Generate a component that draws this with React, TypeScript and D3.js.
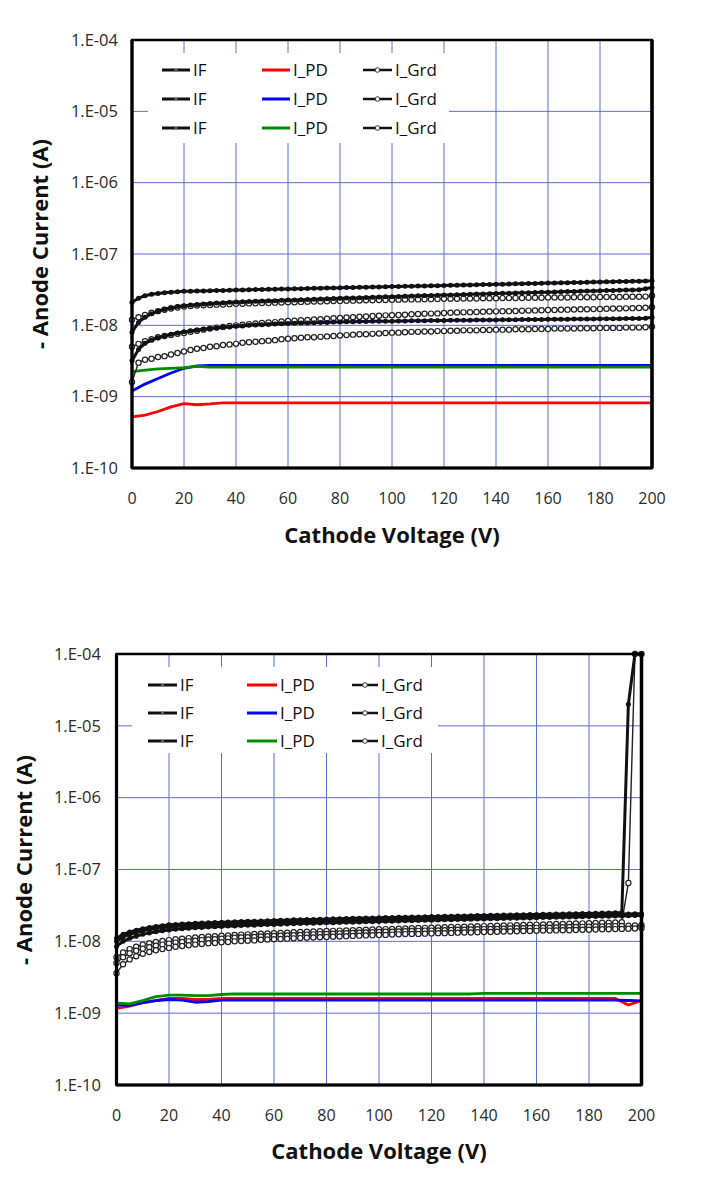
import React from "react";
import * as d3 from "d3";

// ---------- data (currents in nA) ----------
const V_MARK = [
  0, 2.5, 5, 7.5, 10, 12.5, 15, 17.5, 20, 22.5,
  25, 27.5, 30, 32.5, 35, 37.5, 40, 42.5, 45, 47.5,
  50, 52.5, 55, 57.5, 60, 62.5, 65, 67.5, 70, 72.5,
  75, 77.5, 80, 82.5, 85, 87.5, 90, 92.5, 95, 97.5,
  100, 102.5, 105, 107.5, 110, 112.5, 115, 117.5, 120, 122.5,
  125, 127.5, 130, 132.5, 135, 137.5, 140, 142.5, 145, 147.5,
  150, 152.5, 155, 157.5, 160, 162.5, 165, 167.5, 170, 172.5,
  175, 177.5, 180, 182.5, 185, 187.5, 190, 192.5, 195, 197.5,
  200,
];
const V_PD = [
  0, 5, 10, 15, 20, 25, 30, 35, 40, 45, 50, 55, 60, 65, 70, 75, 80, 85, 90, 95,
  100, 105, 110, 115, 120, 125, 130, 135, 140, 145, 150, 155, 160, 165, 170, 175,
  180, 185, 190, 195, 200,
];
const X_TICKS = [0, 20, 40, 60, 80, 100, 120, 140, 160, 180, 200];
const Y_TICKS = [1e-4, 1e-5, 1e-6, 1e-7, 1e-8, 1e-9, 1e-10];
const Y_TICK_LABELS = ["1.E-04", "1.E-05", "1.E-06", "1.E-07", "1.E-08", "1.E-09", "1.E-10"];
const X_TITLE = "Cathode Voltage (V)";
const Y_TITLE = "- Anode Current (A)";
const NAME_IF = "IF";
const NAME_PD = "I_PD";
const NAME_GRD = "I_Grd";
const PD_COLORS = ["#ff0000", "#0000ff", "#008a00"];

// top chart
const TOP_IF_A = [
  21, 24, 26, 27.2, 28, 28.6, 29.1, 29.5, 30, 30.1,
  30.3, 30.4, 30.6, 30.7, 30.9, 31.1, 31.2, 31.4, 31.5, 31.7,
  31.8, 32, 32.1, 32.3, 32.4, 32.6, 32.7, 32.9, 33, 33.2,
  33.3, 33.5, 33.6, 33.8, 33.9, 34.1, 34.2, 34.4, 34.5, 34.7,
  34.9, 35, 35.2, 35.4, 35.5, 35.7, 35.9, 36, 36.2, 36.4,
  36.6, 36.7, 36.9, 37.1, 37.3, 37.5, 37.6, 37.8, 38, 38.2,
  38.4, 38.5, 38.7, 38.9, 39.1, 39.3, 39.5, 39.6, 39.8, 40,
  40.2, 40.4, 40.5, 40.7, 40.9, 41.1, 41.3, 41.4, 41.6, 41.8,
  42,
];
const TOP_IF_B = [
  8, 11, 13, 14.5, 15.8, 16.8, 17.6, 18.3, 18.8, 19.2,
  19.6, 19.9, 20.2, 20.5, 20.7, 21, 21.2, 21.4, 21.5, 21.7,
  21.9, 22.1, 22.2, 22.4, 22.6, 22.7, 22.9, 23.1, 23.2, 23.4,
  23.6, 23.7, 23.9, 24.1, 24.2, 24.4, 24.6, 24.7, 24.9, 25.1,
  25.2, 25.4, 25.6, 25.7, 25.9, 26.1, 26.2, 26.4, 26.6, 26.7,
  26.9, 27.1, 27.2, 27.4, 27.6, 27.7, 27.9, 28.1, 28.2, 28.4,
  28.6, 28.7, 28.9, 29.1, 29.2, 29.4, 29.6, 29.7, 29.9, 30.1,
  30.2, 30.4, 30.6, 30.7, 30.9, 31.1, 31.2, 31.4, 31.6, 32.5,
  34,
];
const TOP_IF_C = [
  3.2, 4.6, 5.6, 6.2, 6.7, 7.1, 7.5, 7.8, 8.1, 8.4,
  8.6, 8.8, 9, 9.2, 9.4, 9.5, 9.7, 9.8, 10, 10.1,
  10.2, 10.3, 10.4, 10.5, 10.6, 10.7, 10.8, 10.8, 10.9, 11,
  11, 11.1, 11.1, 11.2, 11.2, 11.3, 11.3, 11.4, 11.4, 11.4,
  11.4, 11.5, 11.5, 11.6, 11.6, 11.6, 11.7, 11.7, 11.7, 11.8,
  11.8, 11.8, 11.8, 11.9, 11.9, 11.9, 11.9, 12, 12, 12,
  12.1, 12.1, 12.1, 12.1, 12.2, 12.2, 12.2, 12.2, 12.3, 12.3,
  12.3, 12.3, 12.4, 12.4, 12.4, 12.4, 12.5, 12.5, 12.5, 12.6,
  13,
];
const TOP_GRD_A = [
  12, 13, 14, 15, 15.8, 16.5, 17.2, 17.8, 18.3, 18.6,
  18.9, 19.1, 19.3, 19.5, 19.6, 19.8, 20, 20.1, 20.3, 20.4,
  20.5, 20.6, 20.8, 20.9, 21, 21.1, 21.3, 21.4, 21.5, 21.6,
  21.8, 21.9, 22, 22.1, 22.2, 22.3, 22.4, 22.5, 22.6, 22.7,
  22.8, 22.9, 23, 23.1, 23.1, 23.2, 23.3, 23.4, 23.5, 23.5,
  23.6, 23.7, 23.7, 23.8, 23.9, 23.9, 24, 24.1, 24.1, 24.2,
  24.2, 24.3, 24.4, 24.4, 24.5, 24.5, 24.6, 24.6, 24.7, 24.7,
  24.8, 24.8, 24.9, 24.9, 25, 25, 25.1, 25.1, 25.2, 25.3,
  26,
];
const TOP_GRD_B = [
  5, 5.5, 6, 6.4, 6.8, 7.1, 7.3, 7.6, 7.8, 8.1,
  8.4, 8.7, 9, 9.3, 9.5, 9.8, 10, 10.2, 10.4, 10.6,
  10.8, 11, 11.1, 11.3, 11.5, 11.6, 11.8, 11.9, 12.1, 12.2,
  12.4, 12.6, 12.7, 12.9, 13, 13.2, 13.3, 13.5, 13.6, 13.8,
  13.9, 14, 14.1, 14.3, 14.4, 14.5, 14.6, 14.7, 14.9, 15,
  15.1, 15.2, 15.3, 15.4, 15.5, 15.6, 15.7, 15.8, 15.8, 15.9,
  16, 16.1, 16.2, 16.3, 16.4, 16.4, 16.5, 16.6, 16.7, 16.8,
  16.8, 16.9, 17, 17.1, 17.2, 17.2, 17.3, 17.4, 17.5, 17.6,
  18,
];
const TOP_GRD_C = [
  1.6, 3, 3.3, 3.4, 3.6, 3.7, 3.9, 4.1, 4.3, 4.5,
  4.7, 4.8, 5, 5.1, 5.3, 5.4, 5.5, 5.7, 5.8, 5.9,
  6, 6.1, 6.2, 6.4, 6.5, 6.6, 6.7, 6.8, 6.8, 6.9,
  7, 7.1, 7.2, 7.3, 7.4, 7.5, 7.5, 7.6, 7.7, 7.8,
  7.9, 7.9, 8, 8.1, 8.1, 8.2, 8.2, 8.3, 8.3, 8.4,
  8.4, 8.5, 8.5, 8.5, 8.6, 8.6, 8.7, 8.7, 8.7, 8.8,
  8.8, 8.8, 8.9, 8.9, 8.9, 9, 9, 9, 9, 9.1,
  9.1, 9.1, 9.2, 9.2, 9.2, 9.2, 9.3, 9.3, 9.3, 9.4,
  9.6,
];
const TOP_PD_RED = [
  0.52, 0.55, 0.62, 0.72, 0.8, 0.77, 0.79, 0.82, 0.82, 0.82,
  0.82, 0.82, 0.82, 0.82, 0.82, 0.82, 0.82, 0.82, 0.82, 0.82,
  0.82, 0.82, 0.82, 0.82, 0.82, 0.82, 0.82, 0.82, 0.82, 0.82,
  0.82, 0.82, 0.82, 0.82, 0.82, 0.82, 0.82, 0.82, 0.82, 0.82,
  0.82,
];
const TOP_PD_BLUE = [
  1.2, 1.5, 1.8, 2.15, 2.5, 2.7, 2.75, 2.75, 2.75, 2.75,
  2.75, 2.75, 2.75, 2.75, 2.75, 2.75, 2.75, 2.75, 2.75, 2.75,
  2.75, 2.75, 2.75, 2.75, 2.75, 2.75, 2.75, 2.75, 2.75, 2.75,
  2.75, 2.75, 2.75, 2.75, 2.75, 2.75, 2.75, 2.75, 2.75, 2.75,
  2.75,
];
const TOP_PD_GREEN = [
  2.25, 2.35, 2.45, 2.5, 2.55, 2.65, 2.6, 2.6, 2.6, 2.6,
  2.6, 2.6, 2.6, 2.6, 2.6, 2.6, 2.6, 2.6, 2.6, 2.6,
  2.6, 2.6, 2.6, 2.6, 2.6, 2.6, 2.6, 2.6, 2.6, 2.6,
  2.6, 2.6, 2.6, 2.6, 2.6, 2.6, 2.6, 2.6, 2.6, 2.6,
  2.6,
];

// bottom chart
const BOT_IF_1 = [
  11, 12.5, 13.5, 14.3, 15, 15.6, 16.1, 16.5, 17, 17.2,
  17.4, 17.6, 17.8, 18, 18.1, 18.3, 18.4, 18.6, 18.7, 18.9,
  19, 19.1, 19.2, 19.4, 19.5, 19.6, 19.7, 19.9, 20, 20.1,
  20.2, 20.3, 20.4, 20.6, 20.7, 20.8, 20.9, 21, 21.1, 21.2,
  21.3, 21.4, 21.5, 21.6, 21.7, 21.8, 21.9, 22, 22.1, 22.2,
  22.3, 22.4, 22.5, 22.6, 22.7, 22.8, 22.9, 23, 23.1, 23.2,
  23.3, 23.4, 23.5, 23.6, 23.7, 23.8, 23.9, 24, 24.1, 24.2,
  24.3, 24.4, 24.5, 24.6, 24.7, 24.8, 24.9, 25, 20000, 100000,
  100000,
];
const BOT_IF_2 = [
  10, 11.5, 12.5, 13.3, 14, 14.6, 15.1, 15.5, 16, 16.2,
  16.4, 16.6, 16.8, 17, 17.1, 17.3, 17.4, 17.6, 17.7, 17.9,
  18, 18.1, 18.2, 18.4, 18.5, 18.6, 18.7, 18.9, 19, 19.1,
  19.2, 19.3, 19.4, 19.6, 19.7, 19.8, 19.9, 20, 20.1, 20.2,
  20.3, 20.4, 20.5, 20.6, 20.7, 20.8, 20.9, 21, 21.1, 21.2,
  21.3, 21.4, 21.5, 21.6, 21.7, 21.8, 21.9, 22, 22.1, 22.2,
  22.3, 22.4, 22.5, 22.6, 22.7, 22.8, 22.9, 23, 23.1, 23.2,
  23.3, 23.4, 23.5, 23.6, 23.7, 23.8, 23.9, 24, 24.1, 24.2,
  24.3,
];
const BOT_IF_3 = [
  8.5, 10, 11, 11.8, 12.5, 13.1, 13.6, 14, 14.4, 14.7,
  15, 15.2, 15.4, 15.6, 15.8, 16, 16.1, 16.3, 16.4, 16.6,
  16.7, 16.8, 17, 17.1, 17.2, 17.3, 17.5, 17.6, 17.7, 17.8,
  17.9, 18, 18.1, 18.2, 18.3, 18.4, 18.5, 18.6, 18.7, 18.8,
  18.9, 19, 19.1, 19.2, 19.3, 19.4, 19.5, 19.6, 19.7, 19.8,
  19.9, 20, 20.1, 20.2, 20.3, 20.4, 20.5, 20.6, 20.7, 20.8,
  20.9, 21, 21.1, 21.2, 21.3, 21.4, 21.5, 21.6, 21.7, 21.8,
  21.9, 22, 22.1, 22.2, 22.3, 22.4, 22.5, 22.6, 22.7, 22.8,
  22.9,
];
const BOT_GRD_1 = [
  6, 7, 7.8, 8.4, 9, 9.4, 9.8, 10.1, 10.4, 10.7,
  10.9, 11.1, 11.3, 11.5, 11.7, 11.8, 12, 12.1, 12.3, 12.4,
  12.5, 12.7, 12.8, 12.9, 13, 13.1, 13.2, 13.4, 13.5, 13.6,
  13.7, 13.8, 13.9, 14, 14.1, 14.2, 14.3, 14.4, 14.5, 14.6,
  14.7, 14.8, 14.9, 15, 15.1, 15.2, 15.3, 15.4, 15.5, 15.6,
  15.7, 15.8, 15.9, 16, 16.1, 16.2, 16.3, 16.4, 16.5, 16.6,
  16.7, 16.8, 16.9, 17, 17.1, 17.2, 17.3, 17.4, 17.5, 17.6,
  17.7, 17.8, 17.9, 18, 18.1, 18.2, 18.3, 18.4, 65, 100000,
  100000,
];
const BOT_GRD_2 = [
  5, 6, 6.8, 7.4, 7.9, 8.3, 8.7, 9, 9.3, 9.6,
  9.8, 10, 10.2, 10.4, 10.6, 10.7, 10.9, 11, 11.2, 11.3,
  11.4, 11.5, 11.7, 11.8, 11.9, 12, 12.1, 12.2, 12.3, 12.4,
  12.5, 12.6, 12.7, 12.8, 12.9, 13, 13.1, 13.2, 13.3, 13.4,
  13.5, 13.6, 13.6, 13.7, 13.8, 13.9, 14, 14.1, 14.1, 14.2,
  14.3, 14.4, 14.5, 14.5, 14.6, 14.7, 14.8, 14.9, 14.9, 15,
  15.1, 15.2, 15.2, 15.3, 15.4, 15.5, 15.5, 15.6, 15.7, 15.8,
  15.8, 15.9, 16, 16.1, 16.1, 16.2, 16.3, 16.4, 16.5, 16.6,
  16.8,
];
const BOT_GRD_3 = [
  3.6, 4.8, 5.6, 6.2, 6.7, 7.1, 7.5, 7.8, 8.1, 8.4,
  8.6, 8.8, 9, 9.2, 9.4, 9.5, 9.7, 9.8, 10, 10.1,
  10.2, 10.3, 10.5, 10.6, 10.7, 10.8, 10.9, 11, 11.1, 11.2,
  11.3, 11.4, 11.5, 11.6, 11.7, 11.8, 11.9, 12, 12.1, 12.2,
  12.3, 12.3, 12.4, 12.5, 12.6, 12.7, 12.7, 12.8, 12.9, 13,
  13, 13.1, 13.2, 13.3, 13.3, 13.4, 13.5, 13.5, 13.6, 13.7,
  13.7, 13.8, 13.9, 13.9, 14, 14.1, 14.1, 14.2, 14.3, 14.3,
  14.4, 14.5, 14.5, 14.6, 14.7, 14.7, 14.8, 14.9, 15, 15.1,
  15.3,
];
const BOT_PD_RED = [
  1.17, 1.25, 1.4, 1.5, 1.6, 1.6, 1.55, 1.55, 1.6, 1.6,
  1.6, 1.6, 1.6, 1.6, 1.6, 1.6, 1.6, 1.6, 1.6, 1.6,
  1.6, 1.6, 1.6, 1.6, 1.6, 1.6, 1.6, 1.6, 1.6, 1.6,
  1.6, 1.6, 1.6, 1.6, 1.6, 1.6, 1.6, 1.6, 1.6, 1.3,
  1.5,
];
const BOT_PD_BLUE = [
  1.3, 1.28, 1.4, 1.5, 1.55, 1.52, 1.42, 1.45, 1.52, 1.52,
  1.52, 1.52, 1.52, 1.52, 1.52, 1.52, 1.52, 1.52, 1.52, 1.52,
  1.52, 1.52, 1.52, 1.52, 1.52, 1.52, 1.52, 1.52, 1.52, 1.52,
  1.52, 1.52, 1.52, 1.52, 1.52, 1.52, 1.52, 1.52, 1.52, 1.5,
  1.48,
];
const BOT_PD_GREEN = [
  1.38, 1.35, 1.5, 1.7, 1.78, 1.78, 1.75, 1.75, 1.82, 1.85,
  1.85, 1.85, 1.85, 1.85, 1.85, 1.85, 1.85, 1.85, 1.85, 1.85,
  1.85, 1.85, 1.85, 1.85, 1.85, 1.85, 1.85, 1.85, 1.88, 1.88,
  1.88, 1.88, 1.88, 1.88, 1.88, 1.88, 1.88, 1.88, 1.88, 1.88,
  1.88,
];

// ---------- layout ----------
const FONT = "'Open Sans', 'Noto Sans', sans-serif";
const GRID = "#5a6fd4";

type PanelCfg = {
  left: number; right: number; top: number; bottom: number;
  yTickX: number; xTickY: number; xTitleY: number; yTitleX: number; yTitleY: number;
  legendBox: [number, number, number, number];
  legendRows: number[];
  legendCols: [number, number][];
  ifs: number[][]; grds: number[][]; pds: number[][];
};

const PANELS: PanelCfg[] = [
  {
    left: 132, right: 652, top: 40, bottom: 468,
    yTickX: 118, xTickY: 498, xTitleY: 535, yTitleX: 40, yTitleY: 244,
    legendBox: [148, 53, 449, 143],
    legendRows: [70, 99, 128],
    legendCols: [[162, 190], [262, 290], [363, 392]],
    ifs: [TOP_IF_A, TOP_IF_B, TOP_IF_C],
    grds: [TOP_GRD_A, TOP_GRD_B, TOP_GRD_C],
    pds: [TOP_PD_RED, TOP_PD_BLUE, TOP_PD_GREEN],
  },
  {
    left: 116.5, right: 641.5, top: 654, bottom: 1085,
    yTickX: 101, xTickY: 1115, xTitleY: 1151, yTitleX: 24, yTitleY: 860,
    legendBox: [132, 667, 438, 753],
    legendRows: [685, 713, 741],
    legendCols: [[148, 177], [247, 277], [352, 378]],
    ifs: [BOT_IF_1, BOT_IF_2, BOT_IF_3],
    grds: [BOT_GRD_1, BOT_GRD_2, BOT_GRD_3],
    pds: [BOT_PD_RED, BOT_PD_BLUE, BOT_PD_GREEN],
  },
];

function Panel({ c }: { c: PanelCfg }) {
  const x = d3.scaleLinear().domain([0, 200]).range([c.left, c.right]);
  const y = d3.scaleLog().domain([1e-10, 1e-4]).range([c.bottom, c.top]);
  const line = d3.line();
  const path = (vs: number[], d: number[]) =>
    line(vs.map((v, i) => [x(v), y(d[i] * 1e-9)] as [number, number])) || "";
  const [lx0, ly0, lx1, ly1] = c.legendBox;
  return (
    <g>
      {/* grid */}
      {X_TICKS.slice(1, -1).map((t) => (
        <line key={"gx" + t} x1={x(t)} x2={x(t)} y1={c.top} y2={c.bottom} stroke={GRID} strokeWidth={1} />
      ))}
      {Y_TICKS.slice(1, -1).map((t) => (
        <line key={"gy" + t} x1={c.left} x2={c.right} y1={y(t)} y2={y(t)} stroke={GRID} strokeWidth={1} />
      ))}
      {/* legend background */}
      <rect x={lx0} y={ly0} width={lx1 - lx0} height={ly1 - ly0} fill="#ffffff" />
      {/* PD lines */}
      {c.pds.map((d, k) => (
        <path key={"pd" + k} d={path(V_PD, d)} fill="none" stroke={PD_COLORS[k]} strokeWidth={2.8} strokeLinejoin="round" />
      ))}
      {/* Grd series */}
      {c.grds.map((d, k) => (
        <g key={"grd" + k}>
          <path d={path(V_MARK, d)} fill="none" stroke="#222" strokeWidth={1.4} />
          {V_MARK.map((v, i) => (
            <circle key={i} cx={x(v)} cy={y(d[i] * 1e-9)} r={2.6} fill="#fff" stroke="#222" strokeWidth={1.2} />
          ))}
        </g>
      ))}
      {/* IF series */}
      {c.ifs.map((d, k) => (
        <g key={"if" + k}>
          <path d={path(V_MARK, d)} fill="none" stroke="#111" strokeWidth={3} strokeLinejoin="round" />
          {V_MARK.map((v, i) => (
            <circle key={i} cx={x(v)} cy={y(d[i] * 1e-9)} r={2.5} fill="#111" />
          ))}
        </g>
      ))}
      {/* frame */}
      <rect x={c.left} y={c.top} width={c.right - c.left} height={c.bottom - c.top} fill="none" stroke="#000" strokeWidth={2.5} />
      <line x1={c.left} x2={c.left} y1={c.top} y2={c.bottom} stroke="#000" strokeWidth={3.2} />
      <line x1={c.right} x2={c.right} y1={c.top} y2={c.bottom} stroke="#000" strokeWidth={3.5} />
      <line x1={c.left} x2={c.right} y1={c.bottom} y2={c.bottom} stroke="#000" strokeWidth={3.2} />
      {/* y ticks */}
      {Y_TICKS.map((t, i) => (
        <text key={"yt" + i} x={c.yTickX} y={y(t)} dy="0.35em" textAnchor="end" fontFamily={FONT} fontSize={16.5} fill="#2a2a2a">
          {Y_TICK_LABELS[i]}
        </text>
      ))}
      {/* x ticks */}
      {X_TICKS.map((t) => (
        <text key={"xt" + t} x={x(t)} y={c.xTickY} dy="0.35em" textAnchor="middle" fontFamily={FONT} fontSize={16} fill="#2a2a2a">
          {t}
        </text>
      ))}
      <text x={(c.left + c.right) / 2} y={c.xTitleY} dy="0.35em" textAnchor="middle" fontFamily={FONT} fontWeight="bold" fontSize={22} fill="#111">
        {X_TITLE}
      </text>
      <text transform={`translate(${c.yTitleX},${c.yTitleY}) rotate(-90)`} dy="0.35em" textAnchor="middle" fontFamily={FONT} fontWeight="bold" fontSize={22} fill="#111">
        {Y_TITLE}
      </text>
      {/* legend */}
      {c.legendRows.map((ry, r) => (
        <g key={"lg" + r}>
          <line x1={c.legendCols[0][0]} x2={c.legendCols[0][1]} y1={ry} y2={ry} stroke="#111" strokeWidth={3} />
          <circle cx={(c.legendCols[0][0] + c.legendCols[0][1]) / 2} cy={ry} r={1.6} fill="#666" />
          <text x={c.legendCols[0][1] + 3} y={ry} dy="0.36em" fontFamily={FONT} fontSize={17} fill="#111">{NAME_IF}</text>
          <line x1={c.legendCols[1][0]} x2={c.legendCols[1][1]} y1={ry} y2={ry} stroke={PD_COLORS[r]} strokeWidth={3} />
          <text x={c.legendCols[1][1] + 3} y={ry} dy="0.36em" fontFamily={FONT} fontSize={17} fill="#111">{NAME_PD}</text>
          <line x1={c.legendCols[2][0]} x2={c.legendCols[2][1]} y1={ry} y2={ry} stroke="#111" strokeWidth={2.5} />
          <circle cx={(c.legendCols[2][0] + c.legendCols[2][1]) / 2} cy={ry} r={2.3} fill="#fff" stroke="#333" strokeWidth={1} />
          <text x={c.legendCols[2][1] + 3} y={ry} dy="0.36em" fontFamily={FONT} fontSize={17} fill="#111">{NAME_GRD}</text>
        </g>
      ))}
    </g>
  );
}

export default function App() {
  return (
    <svg width={705} height={1183} style={{ position: "absolute", left: 0, top: 0, background: "#fff" }}>
      <rect x={0} y={0} width={705} height={1183} fill="#fff" />
      {PANELS.map((c, i) => (
        <Panel key={i} c={c} />
      ))}
    </svg>
  );
}
